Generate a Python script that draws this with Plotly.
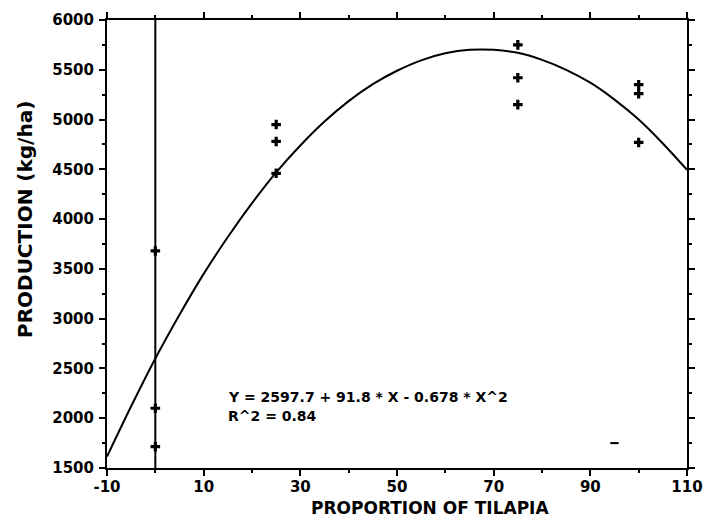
import plotly.graph_objects as go

x_obs = [0, 0, 0, 25, 25, 25, 75, 75, 75, 100, 100, 100]
y_obs = [3680, 2100, 1715, 4950, 4780, 4460, 5750, 5420, 5150, 5350, 5260, 4770]

# Stray dash mark
dash_x = [95]
dash_y = [1750]

# Fitted curve at every 5 units
curve_x = [-10, -5, 0, 5, 10, 15, 20, 25, 30, 35, 40, 45, 50, 55, 60, 65, 70, 75, 80, 85, 90, 95, 100, 105, 110]
curve_y = [1615, 2120, 2600, 3040, 3450, 3820, 4160, 4470, 4740, 4980, 5185, 5355, 5490, 5595, 5665, 5700, 5700, 5670, 5600, 5500, 5370, 5200, 5000, 4760, 4495]

# Vertical reference line at x = 0
vline_x = [0, 0]
vline_y = [1500, 6000]

eq_line1 = "Y = 2597.7 + 91.8 * X - 0.678 * X^2"
eq_line2 = "R^2 = 0.84"
x_title = "PROPORTION OF TILAPIA"
y_title = "PRODUCTION (kg/ha)"

x_ticks = [-10, 10, 30, 50, 70, 90, 110]
x_ticktext = ["-10", "10", "30", "50", "70", "90", "110"]
y_ticks = [1500, 2000, 2500, 3000, 3500, 4000, 4500, 5000, 5500, 6000]

bold = dict(family="DejaVu Sans", size=15, color="black", weight="bold")

fig = go.Figure()
fig.add_trace(go.Scatter(x=vline_x, y=vline_y, mode="lines",
                         line=dict(color="black", width=2), showlegend=False))
fig.add_trace(go.Scatter(x=curve_x, y=curve_y, mode="lines",
                         line=dict(color="black", width=2, shape="spline"), showlegend=False))
fig.add_trace(go.Scatter(x=x_obs, y=y_obs, mode="markers",
                         marker=dict(symbol="cross", size=8, color="black"), showlegend=False))
fig.add_trace(go.Scatter(x=dash_x, y=dash_y, mode="markers",
                         marker=dict(symbol="line-ew", size=6, line=dict(color="black", width=2)),
                         showlegend=False))

eq_font = dict(family="DejaVu Sans", size=14, color="black", weight="bold")
fig.add_annotation(x=14.7, y=2210, text=eq_line1, showarrow=False, xanchor="left", yanchor="middle",
                   font=eq_font)
fig.add_annotation(x=14.7, y=2020, text=eq_line2, showarrow=False, xanchor="left", yanchor="middle",
                   font=eq_font)

# Axis titles
fig.add_annotation(xref="paper", yref="paper", x=0.557, y=-0.09, text=x_title, showarrow=False,
                   xanchor="center", yanchor="middle",
                   font=dict(family="DejaVu Sans", size=17, color="black", weight="bold"))
fig.add_annotation(xref="paper", yref="paper", x=-0.141, y=0.554, text=y_title, showarrow=False,
                   textangle=-90, xanchor="center", yanchor="middle",
                   font=dict(family="DejaVu Sans", size=20, color="black", weight="bold"))

axis_common = dict(showline=True, linecolor="black", linewidth=2, mirror="allticks",
                   ticks="outside", ticklen=6, tickwidth=2, tickcolor="black",
                   showgrid=False, zeroline=False, tickfont=bold, automargin=False)

fig.update_xaxes(range=[-10, 110], tickvals=x_ticks, ticktext=x_ticktext, ticklabelstandoff=-2,
                 minor=dict(tickvals=[0, 20, 40, 60, 80, 100], ticklen=3, tickwidth=1.5,
                            tickcolor="black", ticks="outside"),
                 **axis_common)
fig.update_yaxes(range=[1500, 6000], tickvals=y_ticks, ticklabelstandoff=2,
                 minor=dict(dtick=250, tick0=1500, ticklen=3, tickwidth=1.5,
                            tickcolor="black", ticks="outside"),
                 **axis_common)

fig.update_layout(width=704, height=521, plot_bgcolor="white", paper_bgcolor="white",
                  margin=dict(l=107, r=17, t=20, b=53), showlegend=False)

fig.write_html("out.html")
